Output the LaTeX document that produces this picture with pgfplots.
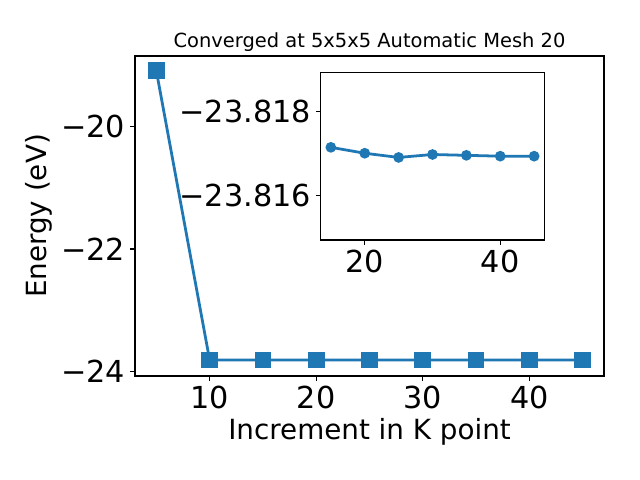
\documentclass[border=0pt]{standalone}
\usepackage{fontspec}
\setmainfont{DejaVu Sans}
\usepackage{pgfplots}
\pgfplotsset{compat=1.18}
\definecolor{c0}{HTML}{1F77B4}
\pgfplotsset{
  mplstyle/.style={
    scale only axis,
    axis line style={line width=0.8pt},
    tick align=outside,
    tick pos=left,
    major tick length=3.5pt,
    every tick/.style={black, line width=0.8pt},
    /pgf/number format/assume math mode=true,
    tick label style={font=\fontsize{21.8}{26}\selectfont},
    label style={font=\fontsize{20}{24}\selectfont},
    minor tick num=0,
  },
}
\begin{document}
\begin{tikzpicture}[x=1pt,y=1pt]
\path[use as bounding box] (0,0) rectangle (460.8,345.6);
% main axis
\begin{axis}[mplstyle,
  at={(97.2pt,74.88pt)}, anchor=south west,
  width=337.7pt, height=230.4pt,
  xmin=3, xmax=47, ymin=-24.08, ymax=-18.84,
  xtick={10,20,30,40},
  ytick={-24,-22,-20}, yticklabels={−24,−22,−20},
  xlabel={Increment in K point}, ylabel={Energy (eV)},
  title={Converged at 5x5x5 Automatic Mesh 20},
  title style={font=\fontsize{14}{16}\selectfont, yshift=-6pt},
]
\addplot[c0, line width=2pt, mark=square*, mark size=5pt, mark options={fill=c0, draw=c0}] coordinates {
  (5,-19.08) (10,-23.817) (15,-23.817) (20,-23.817) (25,-23.817)
  (30,-23.817) (35,-23.817) (40,-23.817) (45,-23.817)
};
\end{axis}
% inset: y in units of 1e-3 eV relative to -23.817 eV (tick labels give the absolute values)
\begin{axis}[mplstyle,
  at={(230.9pt,172.8pt)}, anchor=south west,
  width=161pt, height=120.7pt,
  xmin=13.5, xmax=46.5, ymin=-1.92, ymax=2.06,
  y dir=reverse,
  xtick={20,40},
  ytick={-1,1}, yticklabels={−23.818,−23.816},
  axis background/.style={fill=white},
]
\addplot[c0, line width=2pt, mark=*, mark size=2.8pt, mark options={fill=c0, draw=c0}] coordinates {
  (15,-0.14) (20,0.00) (25,0.10) (30,0.03) (35,0.05) (40,0.07) (45,0.07)
};
\end{axis}
\end{tikzpicture}
\end{document}
